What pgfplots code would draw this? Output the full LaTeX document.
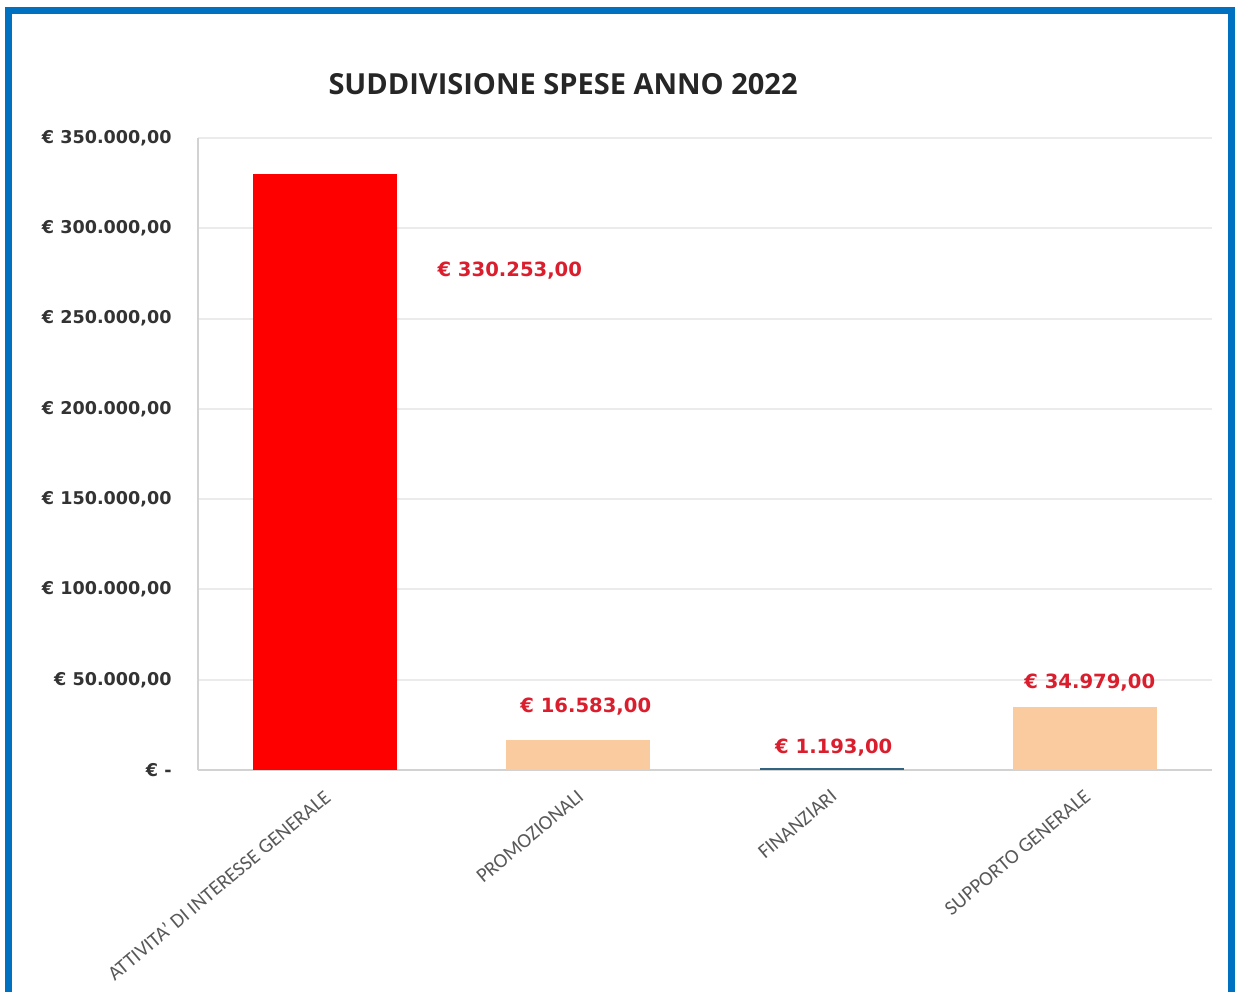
\documentclass[border=0pt]{standalone}
\usepackage{fontspec}
\setmainfont{Carlito}
\newfontfamily\opensans{Open Sans}
\newfontfamily\dejavu{DejaVu Sans}
\usepackage{pgfplots}
\pgfplotsset{compat=1.18}
\definecolor{framebl}{RGB}{0,112,192}
\definecolor{barred}{RGB}{255,0,0}
\definecolor{peach}{RGB}{249,203,158}
\definecolor{tealbar}{RGB}{50,100,130}
\definecolor{lblred}{RGB}{218,30,45}
\definecolor{gridgr}{RGB}{235,235,235}
\definecolor{axisgr}{RGB}{210,210,210}
\begin{document}
\begin{tikzpicture}
% 1 px of the reference = 0.5pt
\path[use as bounding box, fill=white] (0,0) rectangle (617.5pt,495.5pt);
\draw[framebl, line width=3.5pt] (4pt,-5pt) -- (4pt,490pt) -- (615.5pt,490pt) -- (615.5pt,-5pt);
\begin{axis}[
    at={(99pt,110.5pt)}, anchor=south west,
    scale only axis, width=507pt, height=316pt,
    xmin=-0.5, xmax=3.5, ymin=0, ymax=350000,
    ybar, bar width=0.568, bar shift=0pt,
    axis x line*=bottom, axis y line*=left,
    axis line style={axisgr, line width=1pt},
    every outer x axis line/.append style={-},
    every outer y axis line/.append style={-},
    ymajorgrids, grid style={gridgr, line width=1pt},
    major tick length=0pt,
    scaled y ticks=false,
    xtick={0,1,2,3},
    xticklabels={ATTIVITA' DI INTERESSE GENERALE, PROMOZIONALI, FINANZIARI, SUPPORTO GENERALE},
    xticklabel style={xshift=-1pt, yshift=-9pt, rotate=40, anchor=north east, inner sep=0pt,
        font=\fontsize{10.2}{12}\selectfont, color=black!65},
    ytick={0,50000,100000,150000,200000,250000,300000,350000},
    yticklabels={{€ -\hspace{6pt}}, {€ 50.000,00}, {€ 100.000,00}, {€ 150.000,00}, {€ 200.000,00}, {€ 250.000,00}, {€ 300.000,00}, {€ 350.000,00}},
    yticklabel style={anchor=east, inner sep=0pt, xshift=-13pt,
        font=\dejavu\bfseries\fontsize{8.8}{10}\selectfont, color=black!80},
    title={SUDDIVISIONE SPESE ANNO 2022},
    title style={at={(0.36,1)}, anchor=center, yshift=21pt,
        font=\opensans\bfseries\fontsize{14.5}{17}\selectfont, color=black!85},
    /pgf/number format/assume math mode=true,
    nodes near coords={€ \pgfmathprintnumber[fixed, fixed zerofill, precision=2, use comma, 1000 sep={.}]{\pgfplotspointmeta}},
]
\addplot[fill=barred, draw=none,
    every node near coord/.style={anchor=center, xshift=92.5pt, yshift=-48.5pt,
        font=\dejavu\bfseries\fontsize{9.8}{11}\selectfont, color=lblred}]
    coordinates {(0,330253)};
\addplot[fill=peach, draw=none,
    every node near coord/.style={anchor=center, xshift=3.75pt, yshift=16.5pt,
        font=\dejavu\bfseries\fontsize{9.8}{11}\selectfont, color=lblred}]
    coordinates {(1,16583)};
\addplot[fill=tealbar, draw=none,
    every node near coord/.style={anchor=center, xshift=1pt, yshift=10pt,
        font=\dejavu\bfseries\fontsize{9.8}{11}\selectfont, color=lblred}]
    coordinates {(2,1193)};
\addplot[fill=peach, draw=none,
    every node near coord/.style={anchor=center, xshift=2.25pt, yshift=12pt,
        font=\dejavu\bfseries\fontsize{9.8}{11}\selectfont, color=lblred}]
    coordinates {(3,34979)};
\end{axis}
\end{tikzpicture}
\end{document}
